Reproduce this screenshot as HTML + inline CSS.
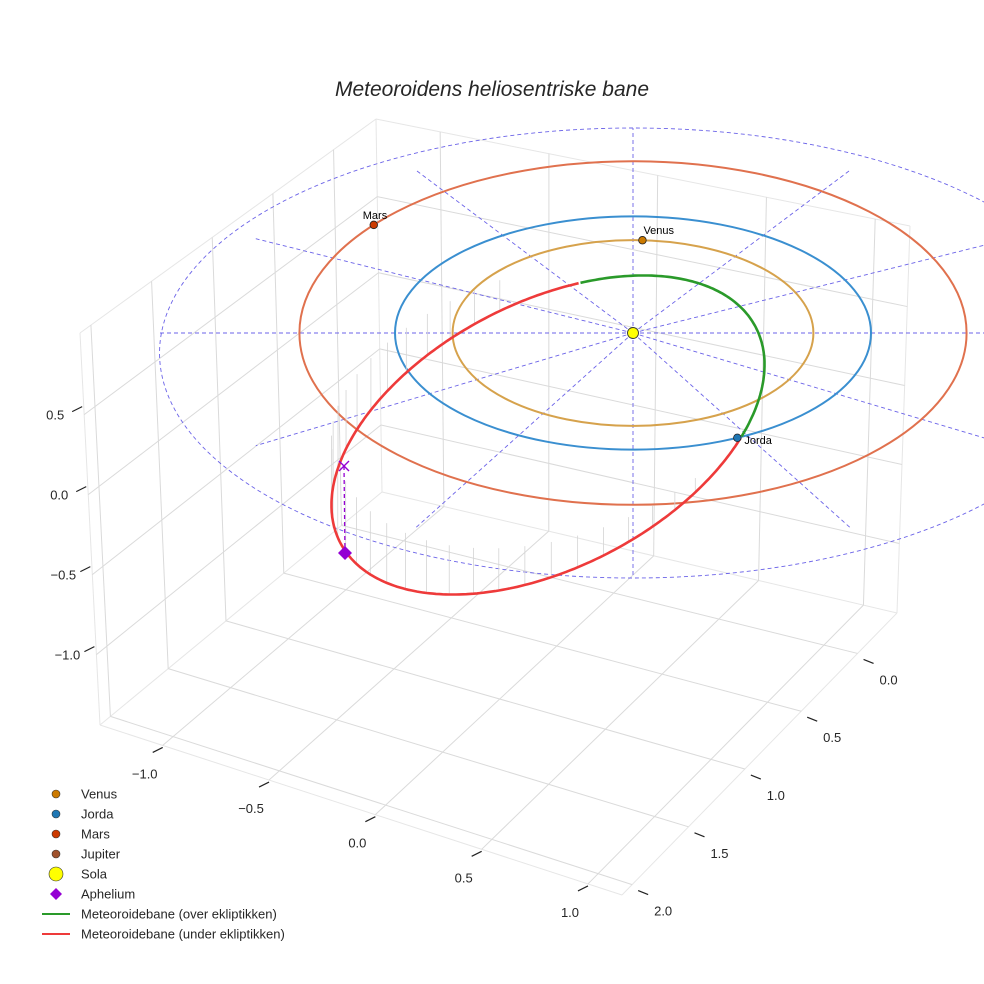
<!DOCTYPE html>
<html><head><meta charset="utf-8">
<style>
html,body{margin:0;padding:0;background:#fff;}
svg{display:block;font-family:"Liberation Sans",sans-serif;}
</style></head>
<body>
<svg id="chart" width="984" height="984" viewBox="0 0 984 984" xmlns="http://www.w3.org/2000/svg">
<text x="492" y="96" text-anchor="middle" font-size="21" font-style="italic" fill="#262626">Meteoroidens heliosentriske bane</text>
<g id="grid"></g>
<g id="ticks"></g>
<g id="plot"></g>
<g id="legend"></g>
</svg>
<script>
// ---- data ----
const xTicks = [-1.0, -0.5, 0.0, 0.5, 1.0];
const yTicks = [0.0, 0.5, 1.0, 1.5, 2.0];
const zTicks = [-1.0, -0.5, 0.0, 0.5];
const xRange = [-1.295, 1.16];
const yRange = [2.09, -0.35];
const zRange = [-1.44, 1.01];
const orbitNames = ["Venus", "Jorda", "Mars", "Jupiter-ring"];
const orbitRadii = [0.723, 1.0, 1.524, 2.48];
const planetNames = ["Venus", "Jorda", "Mars"];
const planetAngles = [87, -64, 141];
const spokeAngles = [0, 30, 60, 90, 120, 150, 180, 210, 240, 270, 300, 330];
const meteorA = [0.98];
const meteorB = [0.557];
const meteorTilt = [-27.4];
const greenStartDeg = [-65];
const greenEndDeg = [43.5];

const NS = "http://www.w3.org/2000/svg";
function mk(parent, tag, attrs){const e=document.createElementNS(NS,tag);for(const k in attrs)e.setAttribute(k,attrs[k]);parent.appendChild(e);return e;}
const grid=document.getElementById('grid'), ticks=document.getElementById('ticks'), plot=document.getElementById('plot'), legend=document.getElementById('legend');

const Ab=[100,725], At=[80,333], Db=[382,492], Dt=[376,119], Cb=[897,613], Ct=[910,226], B=[622,895];
const lerp=(p,q,t)=>[p[0]+(q[0]-p[0])*t,p[1]+(q[1]-p[1])*t];
const fx=v=>(v-xRange[0])/(xRange[1]-xRange[0]);
const fy=v=>(v-yRange[0])/(yRange[1]-yRange[0]);
const fz=v=>(v-zRange[0])/(zRange[1]-zRange[0]);
function line(p,q,attrs,name){const l=mk(grid,'line',Object.assign({x1:p[0],y1:p[1],x2:q[0],y2:q[1]},attrs));return l;}
const gs={stroke:'#dadada','stroke-width':1};
[[Ab,B],[B,Cb],[Cb,Db],[Db,Ab],[Ab,At],[At,Dt],[Dt,Db],[Dt,Ct],[Ct,Cb]].forEach(e=>line(e[0],e[1],{stroke:'#e6e6e6','stroke-width':1},'pane-edge'));
xTicks.forEach(v=>{const t=fx(v);line(lerp(Ab,B,t),lerp(Db,Cb,t),gs,'floor-gridline-x');});
yTicks.forEach(v=>{const t=fy(v);line(lerp(Ab,Db,t),lerp(B,Cb,t),gs,'floor-gridline-y');});
yTicks.forEach(v=>{const t=fy(v);line(lerp(Ab,Db,t),lerp(At,Dt,t),gs,'left-wall-gridline-y');});
zTicks.forEach(v=>{const t=fz(v);line(lerp(Ab,At,t),lerp(Db,Dt,t),gs,'left-wall-gridline-z');});
xTicks.forEach(v=>{const t=fx(v);line(lerp(Db,Cb,t),lerp(Dt,Ct,t),gs,'back-wall-gridline-x');});
zTicks.forEach(v=>{const t=fz(v);line(lerp(Db,Dt,t),lerp(Cb,Ct,t),gs,'back-wall-gridline-z');});

function tickLab(p,dx,dy,lx,ly,txt,name){
  const l=mk(ticks,'line',{x1:p[0],y1:p[1],x2:p[0]+dx,y2:p[1]+dy,stroke:'#222','stroke-width':1.2});
  
  const t=mk(ticks,'text',{x:p[0]+lx,y:p[1]+ly,'font-size':13,fill:'#262626','text-anchor':'middle'});
  t.textContent=txt;
}
const fmt=v=>(v<0?'\u2212':'')+Math.abs(v).toFixed(1);
xTicks.forEach(v=>{const p=lerp(Ab,B,fx(v));tickLab([p[0]+0,p[1]+2],-10,5,-18,31,fmt(v),'x-axis');});
yTicks.forEach(v=>{const p=lerp(B,Cb,fy(v));tickLab([p[0]+6,p[1]+6],10,4,25,25,fmt(v),'y-axis');});
zTicks.forEach(v=>{const p=lerp(Ab,At,fz(v));tickLab([p[0]-2,p[1]-8],-10,5,-27,13,fmt(v),'z-axis');});

// ---- plot ----
const SUN=[633,333], UNIT=238;
const rScale=r=>UNIT*r*1.2/(1+0.2*r);
const orbitColors=["#d6a24c","#3a8fd0","#e0714e","#6b63e8"];
const ringR=rScale(orbitRadii[3]);
spokeAngles.forEach(a=>{const rad=a*Math.PI/180;const s_=Math.sin(rad);
  const x2=SUN[0]+ringR*Math.cos(rad)*(Math.abs(s_)<0.01?1:0.92);
  const y2=SUN[1]-s_*(s_>0?205:245)*(Math.abs(Math.cos(rad))>0.01?0.92:1);
  const s=mk(plot,'line',{x1:SUN[0],y1:SUN[1],x2:x2,y2:y2,stroke:'#6b63e8','stroke-width':0.9,'stroke-dasharray':'4,3'});
  });
orbitRadii.forEach((r,i)=>{const R=rScale(r);
  const e=mk(plot,'ellipse',{cx:SUN[0],cy:i==3?SUN[1]+20:SUN[1],rx:R,ry:i==3?225:R*(i==1?0.49:0.515),fill:'none',stroke:orbitColors[i],'stroke-width':i==3?0.9:2,'stroke-dasharray':i==3?'4,3':'none'});
  });

const MC=[548,435];
function mpt(tdeg){const t=tdeg*Math.PI/180, th=meteorTilt[0]*Math.PI/180;
  const u=rScale(meteorA[0])*Math.cos(t), v=UNIT*meteorB[0]*Math.sin(t);
  return [MC[0]+u*Math.cos(th)-v*Math.sin(th), MC[1]+u*Math.sin(th)+v*Math.cos(th)];}
for(let t=greenEndDeg[0]+20;t<greenStartDeg[0]+360-15;t+=7){const p=mpt(t);const h=Math.max(10,75-Math.abs(t-185)*0.5);
  const d=mk(plot,'line',{x1:p[0],y1:p[1],x2:p[0],y2:p[1]-h,stroke:'#d4d4d4','stroke-width':0.8});
  }
function arcPath(t0,t1){let s='';for(let t=t0;t<=t1+0.01;t+=1){const p=mpt(t);s+=(s?'L':'M')+p[0].toFixed(1)+' '+p[1].toFixed(1);}return s;}
const red=mk(plot,'path',{d:arcPath(greenEndDeg[0],greenStartDeg[0]+360),fill:'none',stroke:'#ee3a3a','stroke-width':2.6});

const green=mk(plot,'path',{d:arcPath(greenStartDeg[0],greenEndDeg[0]),fill:'none',stroke:'#2a9a2a','stroke-width':2.6});


const aph=mk(plot,'line',{x1:344,y1:466,x2:345,y2:553,stroke:'#9400d3','stroke-width':1.3,'stroke-dasharray':'4,3'});

const ax=mk(plot,'path',{d:'M339 461L349 471M349 461L339 471',stroke:'#9400d3','stroke-width':1.4});

const ad=mk(plot,'path',{d:'M345 546L352 553L345 560L338 553Z',fill:'#9400d3'});


const pColors=["#cc7a00","#1f77b4","#cc3a00"];
planetNames.forEach((n,i)=>{const R=rScale(orbitRadii[i]);const a=planetAngles[i]*Math.PI/180;
  const ry=R*(i==1?0.49:0.515);
  const x=SUN[0]+R*Math.cos(a), y=SUN[1]-ry*Math.sin(a);
  const c=mk(plot,'circle',{cx:x,cy:y,r:3.8,fill:pColors[i],stroke:'#222','stroke-width':0.8});
  
  const t=mk(plot,'text',{x:i==1?x+7:(i==0?x+1:x-11),y:i==1?y+6:y-6,'font-size':11,fill:'#000'});
  t.textContent=n;});
const sun=mk(plot,'circle',{cx:SUN[0],cy:SUN[1],r:5.5,fill:'#ffff00',stroke:'#333','stroke-width':0.9});


const legItems=[["Venus","dot","#cc7a00",4],["Jorda","dot","#1f77b4",4],["Mars","dot","#cc3a00",4],["Jupiter","dot","#a0522d",4],["Sola","dot","#ffff00",7],["Aphelium","diamond","#9400d3",0],["Meteoroidebane (over ekliptikken)","line","#2a9a2a",0],["Meteoroidebane (under ekliptikken)","line","#ee3a3a",0]];
legItems.forEach((it,i)=>{const y=794+i*20;
  const g=mk(legend,'g',{});
  if(it[1]=='dot')mk(g,'circle',{cx:56,cy:y,r:it[3],fill:it[2],stroke:'#333','stroke-width':0.6});
  else if(it[1]=='diamond')mk(g,'path',{d:`M56 ${y-6}L62 ${y}L56 ${y+6}L50 ${y}Z`,fill:it[2]});
  else mk(g,'line',{x1:42,y1:y,x2:70,y2:y,stroke:it[2],'stroke-width':2});
  const t=mk(g,'text',{x:81,y:y+4.5,'font-size':13,fill:'#262626'});t.textContent=it[0];
});
</script>
</body></html>
